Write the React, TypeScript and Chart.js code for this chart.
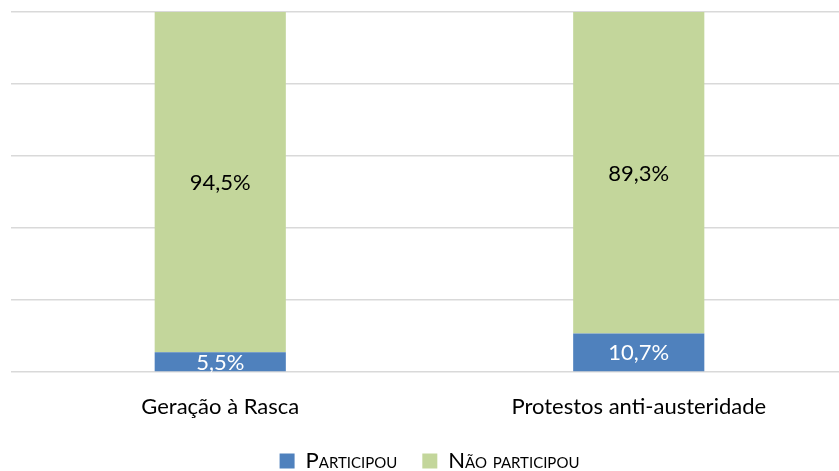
import React, { useEffect, useRef } from "react";
import { Chart, registerables } from "chart.js";

Chart.register(...registerables);

const categories = ["Geração à Rasca", "Protestos anti-austeridade"];
const participou = [5.5, 10.7];
const naoParticipou = [94.5, 89.3];
const seriesLabels = ["Participou", "Não participou"];
const yTicks = [0, 20, 40, 60, 80, 100];

const FONT = "Lato, 'Open Sans', sans-serif";

const valueLabels = {
  id: "valueLabels",
  afterDatasetsDraw(chart: any) {
    const ctx = chart.ctx;
    ctx.save();
    ctx.font = `22px ${FONT}`;
    ctx.textAlign = "center";
    ctx.textBaseline = "middle";
    chart.data.datasets.forEach((ds: any, di: number) => {
      const meta = chart.getDatasetMeta(di);
      meta.data.forEach((el: any, i: number) => {
        const v = ds.data[i];
        const y = (el.y + el.base) / 2;
        ctx.fillStyle = di === 0 ? "#ffffff" : "#000000";
        ctx.fillText(v.toFixed(1).replace(".", ",") + "%", el.x, y + 1);
      });
    });
    ctx.restore();
  },
};

export default function App() {
  const ref = useRef<HTMLCanvasElement | null>(null);
  useEffect(() => {
    if (!ref.current) return;
    const chart = new Chart(ref.current, {
      type: "bar",
      data: {
        labels: categories,
        datasets: [
          {
            label: seriesLabels[0],
            data: participou,
            backgroundColor: "#4F81BD",
            categoryPercentage: 1,
            barPercentage: 0.3134,
          },
          {
            label: seriesLabels[1],
            data: naoParticipou,
            backgroundColor: "#C3D69B",
            categoryPercentage: 1,
            barPercentage: 0.3134,
          },
        ],
      },
      options: {
        animation: false,
        responsive: false,
        devicePixelRatio: 1,
        layout: { padding: { left: 11, right: 12, top: 12, bottom: -11 } },
        scales: {
          x: {
            stacked: true,
            grid: { display: false },
            border: { display: false },
            ticks: {
              color: "#000000",
              font: { size: 22, family: FONT },
              padding: 14,
            },
            afterFit: (axis: any) => {
              axis.height = 53;
            },
          },
          y: {
            stacked: true,
            min: 0,
            max: 100,
            display: true,
            afterBuildTicks: (axis: any) => {
              axis.ticks = yTicks.map((v) => ({ value: v }));
            },
            ticks: { display: false },
            border: { display: false },
            grid: { color: "#D9D9D9", lineWidth: 1.5, drawTicks: false },
          },
        },
        plugins: {
          legend: {
            position: "bottom",
            labels: {
              boxWidth: 15,
              boxHeight: 15,
              color: "#000000",
              padding: 25,
              font: { size: 22, family: FONT, weight: "small-caps" as any },
            },
          },
          tooltip: { enabled: false },
        },
      },
      plugins: [valueLabels],
    });
    return () => chart.destroy();
  }, []);
  return (
    <div style={{ position: "fixed", left: 0, top: 0, width: 839, height: 471, overflow: "hidden", background: "#fff" }}>
      <canvas ref={ref} width={860} height={471} style={{ display: "block", width: 860, height: 471 }} />
    </div>
  );
}
